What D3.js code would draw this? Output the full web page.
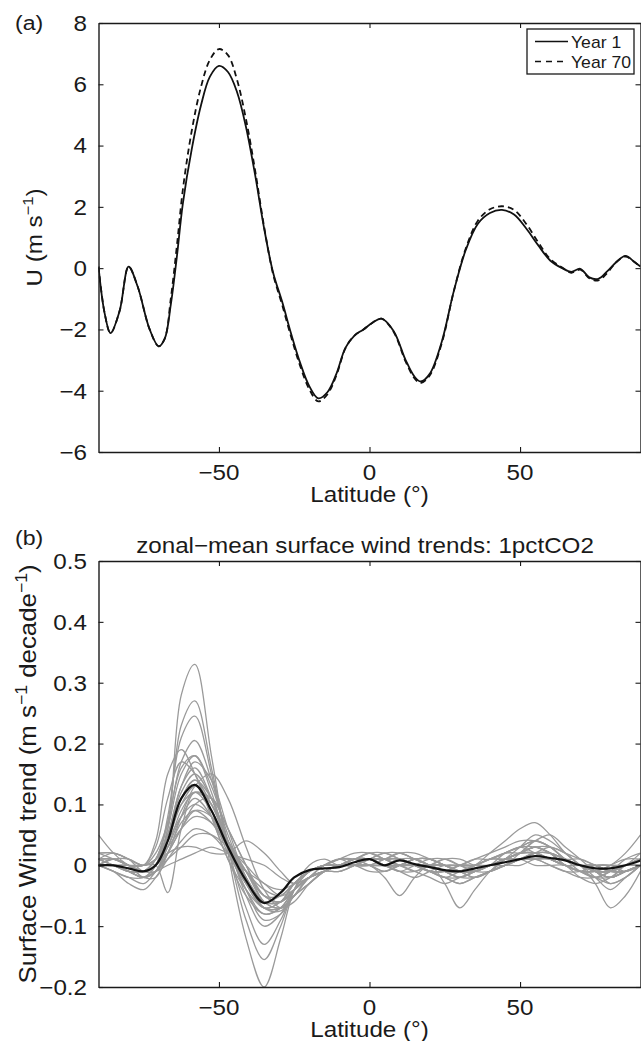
<!DOCTYPE html>
<html>
<head>
<meta charset="utf-8">
<script src="https://cdn.jsdelivr.net/npm/d3@7"></script>
<style>
  body { margin: 0; background: #fff; }
  text { font-family: 'Liberation Sans', Arial, sans-serif; fill: #1a1a1a; }
</style>
</head>
<body>
<div id="viz-container"></div>
<script>
// ---- panel (a): zonal-mean U, year 1 vs year 70
const latA = [-90,-88,-86,-83,-80,-77,-73,-70,-68,-66,-64,-62,-59,-56,-53,-50,-47,-44,-41,-38,-35,-32,-29,-26,-23,-20,-17,-14,-11,-8,-5,-2,1,4,8,12,15,17,20,24,28,32,36,40,44,48,52,56,60,64,67,70,73,76,79,82,85,88,90];
const year1 = [0.05,-1.45,-2.12,-1.4,0.05,-0.6,-2.0,-2.55,-2.3,-1.2,0.35,2.1,3.9,5.3,6.25,6.6,6.4,5.75,4.6,3.05,1.3,-0.15,-1.1,-2.15,-3.1,-3.85,-4.25,-4.05,-3.45,-2.6,-2.2,-2.0,-1.78,-1.65,-2.05,-3.0,-3.55,-3.7,-3.45,-2.4,-0.75,0.6,1.45,1.8,1.9,1.75,1.3,0.75,0.25,0.0,-0.12,-0.02,-0.3,-0.35,-0.1,0.2,0.4,0.2,0.05];
const year70 = [0.05,-1.45,-2.12,-1.4,0.05,-0.6,-2.0,-2.55,-2.3,-1.0,0.7,2.55,4.5,5.9,6.8,7.15,6.95,6.15,4.85,3.2,1.35,-0.2,-1.2,-2.25,-3.2,-3.95,-4.35,-4.12,-3.5,-2.62,-2.2,-2.0,-1.78,-1.65,-2.08,-3.05,-3.6,-3.75,-3.5,-2.45,-0.75,0.65,1.55,1.92,2.02,1.9,1.45,0.85,0.3,0.02,-0.15,-0.05,-0.33,-0.4,-0.15,0.2,0.38,0.2,0.05];
const legendLabels = ['Year 1', 'Year 70'];

// ---- panel (b): surface wind trends, one row per model + multi-model mean
const latB = [-90,-85,-80,-75,-71,-67,-62.5,-58,-52.5,-47,-41,-35,-29.5,-25,-20,-15,-10,-5,0,5,10,15,20,25,30,35,40,45,50,55,60,65,70,75,80,85,90];
const modelTrends = [
  [.00,.01,.00,-.01,.00,.06,.28,.33,.18,.02,-.12,-.20,-.12,-.04,.00,.01,.00,.01,.01,.00,.01,.00,-.01,-.02,-.02,-.01,.00,.01,.02,.03,.02,.01,.00,-.01,-.02,.00,.01],
  [.01,.01,.00,-.01,.01,.07,.23,.27,.16,.03,-.09,-.155,-.10,-.04,-.01,.00,.01,.01,.02,.01,.00,.01,.00,-.01,-.01,.00,.01,.02,.03,.04,.03,.01,-.01,-.02,-.01,.01,.02],
  [.00,.00,-.01,-.02,.00,.08,.21,.245,.15,.03,-.07,-.13,-.09,-.04,-.01,.00,.00,.01,.01,.00,.00,-.01,-.02,-.03,-.02,-.01,.00,.01,.02,.03,.02,.00,-.01,-.01,-.01,.00,.00],
  [.01,.02,.01,.00,.02,.07,.17,.205,.14,.04,-.05,-.10,-.08,-.04,-.02,-.01,.00,.00,.01,.01,.02,.01,.00,-.01,-.01,.00,.01,.01,.02,.02,.01,.00,.00,-.01,-.02,-.01,.00],
  [.00,.01,.00,.00,.04,.15,.19,.15,.08,.01,-.05,-.08,-.07,-.04,-.02,-.01,.00,.01,.02,.01,.00,.00,-.01,-.01,.00,.01,.01,.02,.03,.02,.01,.00,-.02,-.03,-.02,.00,.01],
  [.02,.02,.01,-.01,.00,.06,.15,.18,.13,.05,-.02,-.07,-.07,-.05,-.03,-.01,.00,.00,.00,-.01,.00,.01,.01,.00,-.01,-.01,.00,.01,.01,.02,.02,.01,.00,.00,-.01,-.01,.00],
  [.00,-.01,-.02,-.02,.00,.05,.13,.17,.14,.06,-.02,-.07,-.075,-.05,-.03,-.01,.00,.01,.01,.00,-.01,-.01,.00,.00,-.01,-.02,-.01,.00,.01,.02,.03,.02,.01,.00,-.01,.00,.02],
  [.01,.01,.00,-.01,-.01,.02,.08,.13,.15,.11,.03,-.04,-.07,-.06,-.03,-.01,.00,.00,.01,.02,.01,.00,-.01,-.02,-.03,-.02,-.01,.00,.02,.04,.05,.03,.01,-.01,-.02,-.01,.00],
  [.00,.00,-.01,-.02,-.01,.04,.11,.14,.10,.04,-.02,-.06,-.06,-.04,-.02,-.01,-.01,.00,.01,.00,.01,.01,.00,-.01,-.02,-.02,-.01,.00,.00,.01,.01,.00,.00,-.01,-.03,-.02,.00],
  [.00,.00,.00,.00,.00,-.045,.06,.12,.10,.04,-.01,-.05,-.06,-.04,-.02,.00,.01,.01,.00,-.01,.00,.01,.01,.00,.00,-.01,-.01,.00,.01,.01,.00,-.01,-.01,.00,.00,-.01,.00],
  [.01,.00,-.01,-.01,.01,.05,.10,.12,.09,.03,-.03,-.07,-.06,-.03,-.01,.00,.00,.00,.00,.00,-.01,-.02,-.01,.00,.00,.00,.00,.01,.02,.02,.01,.00,-.01,-.02,-.03,-.02,.00],
  [.00,.01,.01,.00,.01,.04,.08,.10,.08,.03,-.01,-.04,-.05,-.03,-.01,.00,.00,.01,.01,.01,.00,.00,.00,.00,-.01,.00,.01,.02,.03,.03,.02,.01,.00,.00,.00,.00,.01],
  [.00,-.01,-.02,-.03,-.01,.02,.06,.09,.08,.04,-.01,-.06,-.07,-.05,-.02,-.01,.00,.00,-.01,-.01,.00,.00,-.01,-.02,-.01,.00,.00,.01,.01,.01,.00,-.01,-.02,-.02,-.01,.00,.01],
  [.02,.02,.01,.00,.01,.03,.06,.08,.07,.03,-.01,-.05,-.06,-.04,-.02,-.01,-.01,.00,.01,.02,.02,.01,.00,-.01,-.01,-.01,.00,.00,.01,.02,.02,.01,.01,.00,-.01,-.01,.00],
  [.00,.00,-.01,-.01,.00,.02,.03,.03,.02,.02,.04,.02,-.01,-.03,-.02,-.01,.00,.00,.01,.00,-.01,.00,.01,.01,.00,.00,.01,.01,.01,.00,.00,.00,-.01,-.01,.00,.01,.01],
  [.01,.00,-.01,-.02,-.01,.01,.03,.05,.05,.03,.00,-.03,-.04,-.03,-.01,.00,.00,.01,.01,.00,.00,.00,-.01,-.02,-.03,-.02,-.01,.00,.01,.01,.01,.00,.00,-.01,-.01,.00,.00],
  [.00,.00,-.01,-.01,.00,.03,.08,.11,.08,.02,-.03,-.06,-.06,-.04,-.02,-.01,.00,.00,.00,-.02,-.05,-.02,.00,-.03,-.07,-.04,-.01,.01,.02,.04,.03,.01,.00,-.02,-.04,-.02,.00],
  [.00,.01,.00,-.01,.00,.05,.12,.15,.11,.04,-.03,-.07,-.07,-.05,-.03,-.01,.00,.01,.01,.00,.00,.01,.01,.00,-.01,.00,.02,.04,.06,.07,.05,.02,.00,-.03,-.07,-.05,-.01],
  [.05,.02,.00,-.01,.00,.04,.10,.13,.10,.03,-.03,-.06,-.05,-.03,-.01,.00,.00,.00,.01,.01,.02,.02,.01,.00,-.01,-.01,.00,.01,.02,.03,.02,.00,-.01,-.01,.00,.02,.05],
  [.01,.01,.00,.00,.03,.11,.17,.15,.08,.01,-.04,-.07,-.06,-.03,-.01,.00,.01,.02,.02,.01,.01,.00,.00,.00,.00,.01,.02,.03,.04,.04,.03,.01,.00,.00,-.01,.00,.01],
  [.00,-.01,-.03,-.04,-.02,.01,.04,.06,.05,.02,-.01,-.03,-.05,-.04,-.02,-.01,.00,.00,.00,.00,.01,.00,.00,.01,.01,.00,.00,.00,.01,.02,.02,.01,.00,.00,.00,.00,.00],
  [.00,.01,.00,-.01,.01,.07,.16,.18,.12,.03,-.04,-.08,-.07,-.04,-.02,-.01,.00,.00,.01,.00,.00,.00,.00,-.01,-.02,-.01,.00,.01,.02,.03,.03,.02,.00,-.01,-.02,-.01,.00],
  [.01,.01,.00,-.01,-.01,.02,.06,.10,.11,.06,.00,-.06,-.07,-.05,-.02,.00,.01,.01,.02,.02,.01,.00,-.01,-.01,.00,.00,.00,.01,.02,.02,.01,.00,.00,.00,-.01,.00,.00],
  [.00,.00,.00,-.01,.00,.05,.11,.14,.11,.04,-.02,-.06,-.06,-.03,-.01,.00,.00,.00,.01,.00,.00,.01,.01,.00,-.01,-.02,-.01,.01,.03,.05,.04,.02,.00,-.01,-.01,.00,.00],
  [.00,.00,-.01,-.02,-.01,.00,.01,.02,.03,.02,.01,.00,-.02,-.03,-.02,-.01,.00,.00,.00,.01,.01,.00,-.01,-.01,.00,.00,.01,.02,.02,.02,.01,.00,.00,-.01,-.01,-.01,.00],
  [.01,.00,-.01,-.01,.01,.05,.13,.16,.11,.03,-.04,-.09,-.08,-.05,-.02,-.01,.00,.01,.01,.01,.00,-.01,.00,.01,.00,-.01,.00,.01,.02,.03,.02,.00,-.01,-.02,-.02,-.01,.00],
  [.00,.01,.00,-.02,-.01,.03,.09,.12,.11,.06,.00,-.05,-.06,-.04,-.02,.00,.01,.00,.00,.01,.02,.01,.00,-.01,-.02,-.01,.00,.00,.01,.02,.01,.00,.00,-.01,-.02,-.01,.00],
  [.02,.01,.00,-.02,-.02,.02,.07,.09,.07,.03,-.01,-.05,-.05,-.03,-.01,.00,.00,.01,.00,.00,.00,.00,.00,.00,-.01,-.01,.00,.02,.03,.04,.03,.01,.00,.00,-.01,-.01,.00]
];
const meanTrend = [.00,.00,-.005,-.01,.00,.04,.11,.132,.09,.03,-.025,-.062,-.045,-.02,-.008,-.005,-.003,.005,.01,.0,.008,.002,-.003,-.008,-.01,-.005,.0,.005,.01,.015,.012,.008,.0,-.005,-.005,.0,.008];

const xTicks = [-50, 0, 50];
const yTicksA = [-6, -4, -2, 0, 2, 4, 6, 8];
const yTicksB = [-0.2, -0.1, 0, 0.1, 0.2, 0.3, 0.4, 0.5];

let viz = d3.select('#viz-container')
  .append('svg')
    .attr('width', 641)
    .attr('height', 1041)
;

let x = d3.scaleLinear().domain([-90, 90]).range([98.5, 640.5]);
let yA = d3.scaleLinear().domain([-6, 8]).range([452, 23]);
let yB = d3.scaleLinear().domain([-0.2, 0.5]).range([987, 561]);

// text is a bit wider than plain Arial in the figure
function label(parent, tx, ty, str, size, anchor, angle){
  let t = parent.append('text')
    .attr('transform', 'translate(' + tx + ',' + ty + ')' + (angle ? ' rotate(' + angle + ')' : '') + ' scale(1.1,1)')
    .attr('text-anchor', anchor)
    .style('font-size', size + 'px');
  if (str != null) t.text(str);
  return t;
}

function frame(y, yTicks, fmt, top, bottom){
  let g = viz.append('g');
  g.append('g').attr('transform', 'translate(0,' + bottom + ')')
    .call(d3.axisBottom(x).tickValues(xTicks).tickSizeInner(-5).tickSizeOuter(0).tickFormat(''));
  g.append('g').attr('transform', 'translate(0,' + top + ')')
    .call(d3.axisTop(x).tickValues(xTicks).tickSizeInner(-5).tickSizeOuter(0).tickFormat(''));
  g.append('g').attr('transform', 'translate(' + x(-90) + ',0)')
    .call(d3.axisLeft(y).tickValues(yTicks).tickSizeInner(-5).tickSizeOuter(0).tickFormat(''));
  g.append('g').attr('transform', 'translate(' + x(90) + ',0)')
    .call(d3.axisRight(y).tickValues(yTicks).tickSizeInner(-5).tickSizeOuter(0).tickFormat(''));
  g.selectAll('path.domain').attr('stroke', '#1a1a1a').attr('stroke-width', 1.4);
  g.selectAll('.tick line').attr('stroke', '#1a1a1a').attr('stroke-width', 1.1);

  xTicks.forEach(function(v){
    label(viz, x(v), bottom + 27.5, d3.format('d')(v), 22, 'middle');
  });
  yTicks.forEach(function(v){
    label(viz, 87, y(v) + 7.8, fmt(v), 22, 'end');
  });
  label(viz, (x(-90) + x(90)) / 2, bottom + 50, 'Latitude (°)', 22, 'middle');
}

function clip(id, top, bottom){
  viz.append('clipPath').attr('id', id)
    .append('rect').attr('x', x(-90)).attr('y', top)
    .attr('width', x(90) - x(-90)).attr('height', bottom - top);
}

// ---------- panel (a)
clip('clipA', 23, 452);
let lineA = d3.line().curve(d3.curveCatmullRom)
  .x(function(d, i){ return x(latA[i]); })
  .y(function(d){ return yA(d); });

let plotA = viz.append('g').attr('clip-path', 'url(#clipA)');
plotA.append('path').datum(year70)
  .attr('d', lineA).attr('fill', 'none').attr('stroke', '#111')
  .attr('stroke-width', 1.8).attr('stroke-dasharray', '6,4');
plotA.append('path').datum(year1)
  .attr('d', lineA).attr('fill', 'none').attr('stroke', '#111')
  .attr('stroke-width', 1.8);

frame(yA, yTicksA, d3.format('d'), 23, 452);

label(viz, 15, 30, '(a)', 21, 'start');
let ylA = label(viz, 42, 237.5, null, 22, 'middle', -90);
ylA.append('tspan').text('U (m s');
ylA.append('tspan').attr('dy', -9).style('font-size', '15px').text('−1');
ylA.append('tspan').attr('dy', 9).text(')');

// legend
let leg = viz.append('g');
leg.append('rect').attr('x', 527).attr('y', 29).attr('width', 107).attr('height', 45)
  .attr('fill', '#fff').attr('stroke', '#1a1a1a').attr('stroke-width', 1.3);
legendLabels.forEach(function(s, i){
  let ly = 41.5 + i * 20;
  leg.append('line').attr('x1', 535).attr('x2', 568).attr('y1', ly).attr('y2', ly)
    .attr('stroke', '#111').attr('stroke-width', 1.6)
    .attr('stroke-dasharray', i == 1 ? '6,5' : null);
  label(leg, 571, ly + 6, s, 16, 'start');
});

// ---------- panel (b)
clip('clipB', 561, 987);
let lineB = d3.line().curve(d3.curveCatmullRom)
  .x(function(d, i){ return x(latB[i]); })
  .y(function(d){ return yB(d); });

let plotB = viz.append('g').attr('clip-path', 'url(#clipB)');
plotB.selectAll('path.model').data(modelTrends).enter()
  .append('path')
    .attr('class', 'model')
    .attr('d', lineB)
    .attr('fill', 'none')
    .attr('stroke', '#9a9a9a')
    .attr('stroke-width', 1.3)
;
plotB.append('path').datum(meanTrend)
  .attr('d', lineB).attr('fill', 'none').attr('stroke', '#111')
  .attr('stroke-width', 2.2);

frame(yB, yTicksB, function(v){ return v == 0 ? '0' : d3.format('.1f')(v); }, 561, 987);

label(viz, 15, 545, '(b)', 21, 'start');
label(viz, 365, 553, 'zonal−mean surface wind trends: 1pctCO2', 22, 'middle');
let ylB = label(viz, 36, 774, null, 23.5, 'middle', -90);
ylB.append('tspan').text('Surface Wind trend (m s');
ylB.append('tspan').attr('dy', -9).style('font-size', '16px').text('−1');
ylB.append('tspan').attr('dy', 9).text(' decade');
ylB.append('tspan').attr('dy', -9).style('font-size', '16px').text('−1');
ylB.append('tspan').attr('dy', 9).text(')');
</script>
</body>
</html>
